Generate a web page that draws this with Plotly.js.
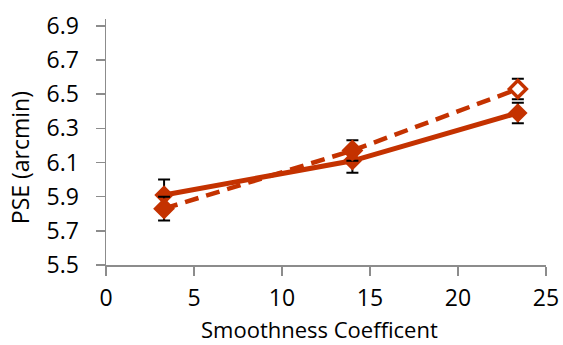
<!DOCTYPE html>
<html>
<head>
<meta charset="utf-8">
<script src="https://cdn.plot.ly/plotly-3.0.1.min.js"></script>
<style>html,body{margin:0;padding:0;background:#fff;}#chart{width:563px;height:345px;}</style>
</head>
<body>
<div id="chart"></div>
<script>
const xValues = [3.3, 14, 23.4];
const solidPSE = [5.91, 6.11, 6.39];
const solidErr = [0.09, 0.07, 0.06];
const dashedPSE = [5.83, 6.17, 6.53];
const dashedErr = [0.07, 0.06, 0.06];
const yTicks = [5.5, 5.7, 5.9, 6.1, 6.3, 6.5, 6.7, 6.9];
const xTicks = [0, 5, 10, 15, 20, 25];
const xTitle = 'Smoothness Coefficent';
const yTitle = 'PSE (arcmin)';

const red = '#C43200';
const font = 'Open Sans, Liberation Sans, sans-serif';
const fs = 23;

const traces = [
  {
    x: xValues, y: solidPSE, type: 'scatter', mode: 'lines+markers',
    line: {color: red, width: 5},
    marker: {symbol: 'diamond', size: 15, color: red, line: {width: 0}},
    error_y: {type: 'data', array: solidErr, visible: true, color: '#000', thickness: 2, width: 6}
  },
  {
    x: xValues, y: dashedPSE, type: 'scatter', mode: 'lines+markers',
    line: {color: red, width: 4.5, dash: '14px,8px'},
    marker: {symbol: 'diamond', size: 13, color: [red, red, '#fff'], line: {color: red, width: 3.5}},
    error_y: {type: 'data', array: dashedErr, visible: true, color: '#000', thickness: 2, width: 6}
  }
];

const layout = {
  width: 563, height: 345,
  margin: {l: 106, r: 17, t: 19, b: 80},
  paper_bgcolor: '#fff', plot_bgcolor: '#fff',
  showlegend: false,
  font: {family: font, size: fs, color: '#000'},
  xaxis: {
    range: [0, 25], tickvals: xTicks, ticktext: xTicks.map(String),
    showgrid: false, zeroline: false, showline: true, linecolor: '#8c8c8c', linewidth: 1.5,
    ticks: 'outside', ticklen: 9, tickwidth: 1.5, tickcolor: '#8c8c8c',
    ticklabelstandoff: 3,
    tickfont: {family: font, size: fs, color: '#000'}
  },
  yaxis: {
    range: [5.5, 6.94], tickvals: yTicks, ticktext: yTicks.map(v => v.toFixed(1)),
    showgrid: false, zeroline: false, showline: true, linecolor: '#8c8c8c', linewidth: 1.5,
    ticks: 'outside', ticklen: 9, tickwidth: 1.5, tickcolor: '#8c8c8c',
    ticklabelstandoff: 12,
    tickfont: {family: font, size: fs, color: '#000'}
  },
  annotations: [
    {text: xTitle, xref: 'paper', yref: 'paper', x: 0.485, y: -0.262, xanchor: 'center', yanchor: 'middle',
     showarrow: false, borderpad: 0, font: {family: font, size: 22, color: '#000'}},
    {text: yTitle, xref: 'paper', yref: 'paper', x: -0.195, y: 0.435, xanchor: 'center', yanchor: 'middle',
     textangle: -90, showarrow: false, borderpad: 0, font: {family: font, size: fs, color: '#000'}}
  ]
};

Plotly.newPlot('chart', traces, layout, {displayModeBar: false, staticPlot: true});
</script>
</body>
</html>
